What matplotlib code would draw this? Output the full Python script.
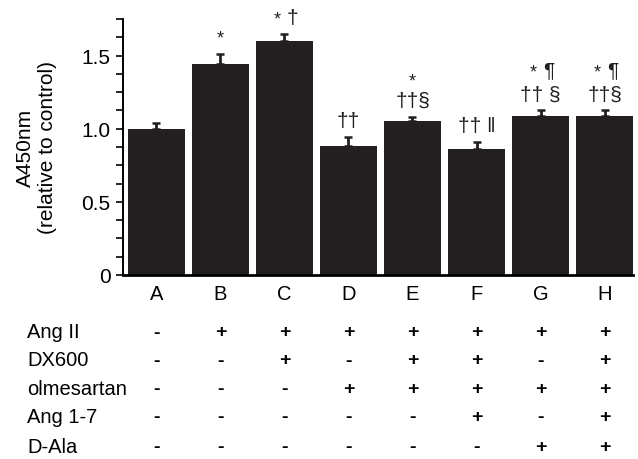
import matplotlib
matplotlib.use("Agg")
import matplotlib.pyplot as plt
import matplotlib.transforms as mtransforms
import numpy as np

plt.rcParams["font.family"] = ["Liberation Sans", "DejaVu Sans"]

# Daten
gruppen = ["A", "B", "C", "D", "E", "F", "G", "H"]
werte = [1.00, 1.44, 1.60, 0.88, 1.05, 0.86, 1.09, 1.09]
fehler = [0.04, 0.07, 0.05, 0.065, 0.03, 0.05, 0.035, 0.035]
zeile_unten = ["", "*", "* \u2020", "\u2020\u2020", "\u2020\u2020\u00a7", "\u2020\u2020 \u2016",
               "\u2020\u2020 \u00a7", "\u2020\u2020\u00a7"]
zeile_oben = ["", "", "", "", "*", "", "* \u00b6", "* \u00b6"]
behandlungen = ["Ang II", "DX600", "olmesartan", "Ang 1-7", "D-Ala"]
tabelle = [
    ["-", "+", "+", "+", "+", "+", "+", "+"],
    ["-", "-", "+", "-", "+", "+", "-", "+"],
    ["-", "-", "-", "+", "+", "+", "+", "+"],
    ["-", "-", "-", "-", "-", "+", "-", "+"],
    ["-", "-", "-", "-", "-", "-", "+", "+"],
]

PX = 72 / 100  # Punkte pro Pixel

fig = plt.figure(figsize=(6.38, 4.60), dpi=100)
ax = fig.add_axes([123 / 638, 1 - 276 / 460, (633 - 123) / 638, (276 - 20) / 460])

x = np.arange(len(gruppen))
farbe = "#231f20"
ax.bar(x, werte, width=0.89, color=farbe, zorder=2)
ax.errorbar(x, werte, yerr=[np.zeros(len(werte)), fehler], fmt="none",
            ecolor=farbe, elinewidth=2, capsize=3, capthick=1.8, zorder=1)

ax.set_xlim(-0.523, 7.445)
ax.set_ylim(0, 1.75)
ax.set_yticks([0, 0.5, 1.0, 1.5])
ax.set_yticklabels(["0", "0.5", "1.0", "1.5"], fontsize=15)
ax.set_yticks(np.arange(0, 1.76, 0.125), minor=True)
ax.tick_params(axis="y", which="both", length=5, width=1.2, direction="out", pad=4)
ax.set_xticks([])
for s in ["top", "right"]:
    ax.spines[s].set_visible(False)
ax.spines["left"].set_linewidth(1.4)
ax.spines["bottom"].set_linewidth(2)

fig.text(25 / 638, 1 - 148 / 460, "A450nm", rotation=90, ha="center", va="center", fontsize=15)
fig.text(48 / 638, 1 - 148 / 460, "(relative to control)", rotation=90, ha="center", va="center",
         fontsize=15)


def notiz(i, text, dx_px, dy_px, groesse):
    ax.annotate(text, (x[i], werte[i] + fehler[i]), xytext=(dx_px * PX, dy_px * PX),
                textcoords="offset points", ha="center", va="baseline", fontsize=groesse,
                color=farbe)


def zeichen_zeile(i, text, basis_px):
    """Zeichnet eine Zeile Signifikanz-Zeichen; Sternchen kleiner."""
    if text == "*":
        notiz(i, "*", 0, basis_px + 4, 13)
    elif text.startswith("* "):
        notiz(i, "*", -7, basis_px + 2, 13)
        notiz(i, text[2:], 8, basis_px + 3, 15)
    else:
        notiz(i, text, 0, basis_px + 3, 15)


for i in range(len(gruppen)):
    if zeile_unten[i]:
        zeichen_zeile(i, zeile_unten[i], 8)
    if zeile_oben[i]:
        zeichen_zeile(i, zeile_oben[i], 28 if zeile_oben[i] == "*" else 32)

# Tabelle unter der Grafik
trans = mtransforms.blended_transform_factory(ax.transData, fig.transFigure)
for i, g in enumerate(gruppen):
    ax.text(x[i], 1 - 295 / 460, g, transform=trans, ha="center", va="center", fontsize=14.5)

zeilen_y = [333, 361, 390, 418, 448]
for r, name in enumerate(behandlungen):
    fig.text(27 / 638, 1 - zeilen_y[r] / 460, name, ha="left", va="center", fontsize=14.5)
    for i in range(len(gruppen)):
        ax.text(x[i], 1 - zeilen_y[r] / 460, tabelle[r][i], transform=trans, ha="center",
                va="center", fontsize=14, fontweight="bold")

fig.savefig("out.png", dpi=100)
